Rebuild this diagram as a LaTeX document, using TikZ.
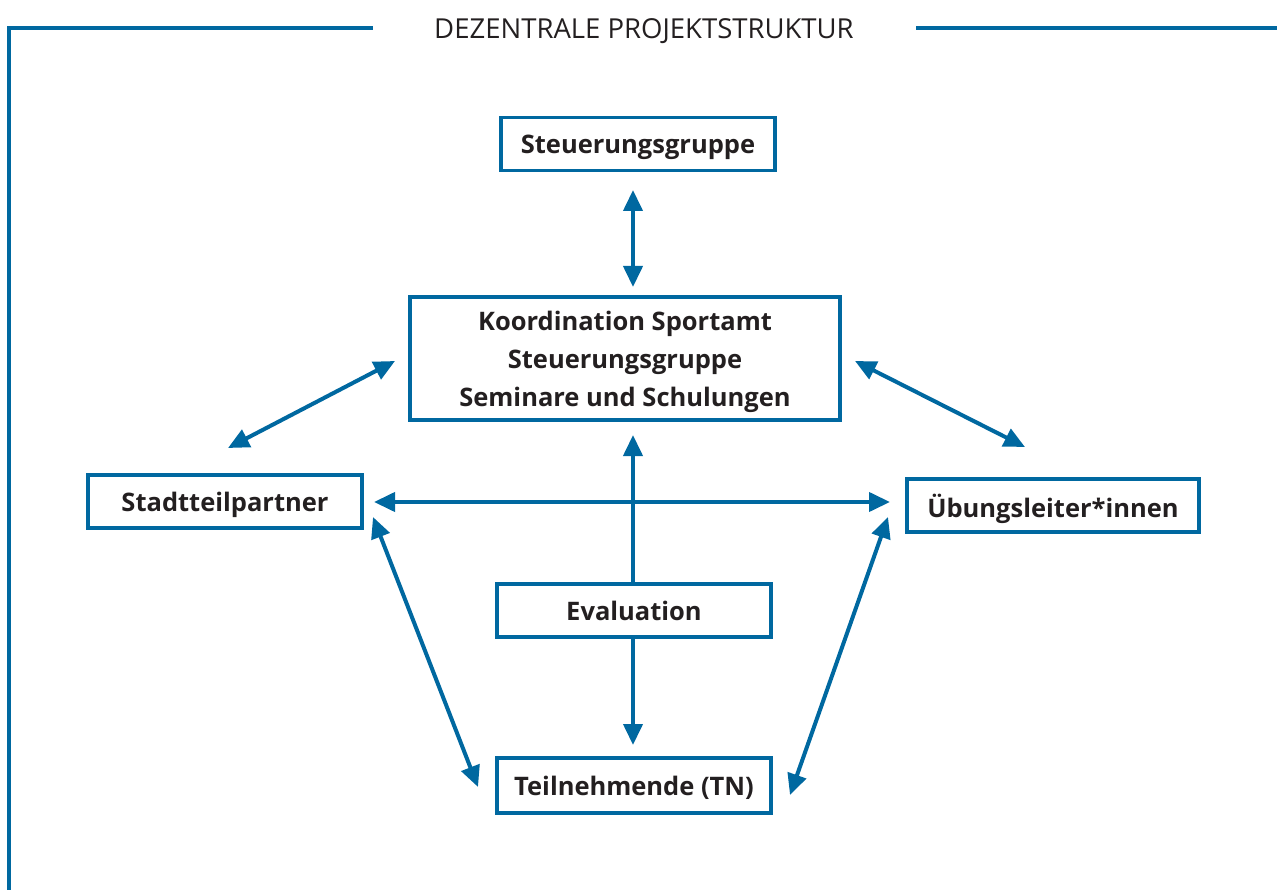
\documentclass[tikz,border=0pt]{standalone}
\usepackage{fontspec}
\setmainfont{Open Sans}
\usetikzlibrary{arrows.meta,calc}
\definecolor{pblue}{RGB}{0,104,160}
\definecolor{ptext}{RGB}{35,31,32}
\tikzset{
  box/.style={draw=pblue, line width=3.5pt, minimum height=53pt, inner sep=0pt, text depth=0pt, font=\fontsize{25.5}{38}\selectfont\bfseries, text=ptext, align=center},
  conn/.style={pblue, line width=4pt, -{Triangle[length=21pt,width=19pt]}},
  bconn/.style={pblue, line width=4pt, {Triangle[length=21pt,width=19pt]}-{Triangle[length=21pt,width=19pt]}},
  frame/.style={pblue, line width=3.5pt}
}
\begin{document}
\begin{tikzpicture}[x=1pt,y=-1pt]
\useasboundingbox (0,0) rectangle (1277,890);
% frame
\coordinate (fl) at (9,890);
\coordinate (ftl) at (9,28);
\coordinate (fa) at (373,28);
\coordinate (fb) at (916,28);
\coordinate (fr) at (1277,28);
\draw[frame] (fl) -- (ftl) -- (fa);
\draw[frame] (fb) -- (fr);
\node[font=\fontsize{27.5}{30}\selectfont, text=ptext, text depth=0pt] (title) at (644,29) {DEZENTRALE PROJEKTSTRUKTUR};
% nodes
\node[box, minimum width=274pt] (steuer) at (638,144) {Steuerungsgruppe};
\node[box, minimum width=430pt, minimum height=123pt] (koord) at (625,358.5) {Koordination Sportamt\\Steuerungsgruppe\\Seminare und Schulungen};
\node[box, minimum width=274pt] (stadt) at (225,501.5) {Stadtteilpartner};
\node[box, minimum width=292pt] (ueb) at (1053,505.5) {Übungsleiter*innen};
\node[box, minimum width=274pt] (eval) at (634,610.5) {Evaluation};
\node[box, minimum width=274pt, minimum height=55pt] (tn) at (634,785.5) {Teilnehmende (TN)};
% connectors
\coordinate (vt1) at (633,170);
\coordinate (vt2) at (633,297);
\draw[bconn, shorten <=20pt, shorten >=10pt] (vt1) -- (vt2);
\coordinate (ld1) at (228,448);
\coordinate (ld2) at (395,361);
\draw[bconn] (ld1) -- (ld2);
\coordinate (rd1) at (855,361);
\coordinate (rd2) at (1025,447);
\draw[bconn] (rd1) -- (rd2);
\coordinate (h1) at (374,502);
\coordinate (h2) at (890,502);
\draw[bconn] (h1) -- (h2);
\coordinate (em) at (633,584);
\coordinate (km) at (633,420);
\draw[conn, shorten >=15pt] (em) -- (km);
\coordinate (es) at (633,637);
\coordinate (tt) at (633,758);
\draw[conn, shorten >=13pt] (es) -- (tt);
\coordinate (ll1) at (373,517);
\coordinate (ll2) at (478,787);
\draw[bconn] (ll1) -- (ll2);
\coordinate (rl1) at (888,517);
\coordinate (rl2) at (790,795);
\draw[bconn] (rl1) -- (rl2);
\end{tikzpicture}
\end{document}
